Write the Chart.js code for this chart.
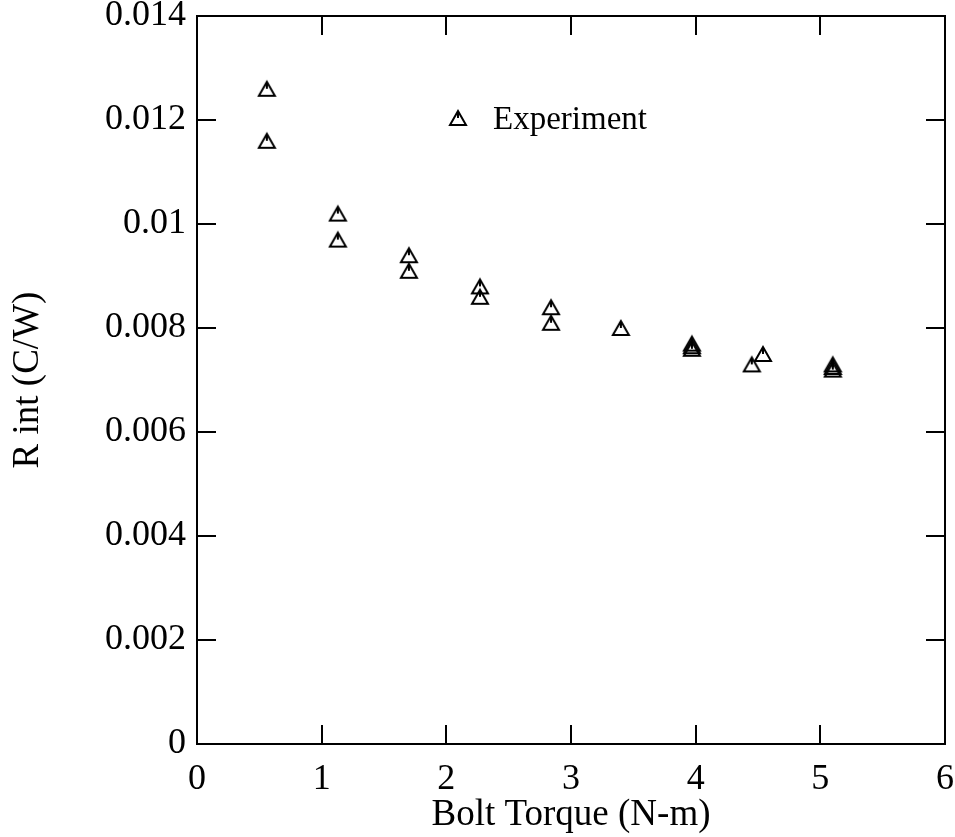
<!DOCTYPE html>
<html lang="en">
<head>
    <meta charset="UTF-8">
    <title>R int vs Bolt Torque</title>
    <script src="https://cdn.jsdelivr.net/npm/chart.js"></script>
    <style>
        html, body {
            margin: 0;
            padding: 0;
            background: #fff;
        }
        .chart-container {
            position: relative;
            width: 955px;
            height: 837px;
        }
    </style>
</head>
<body>

<div class="chart-container">
    <canvas id="myChart" width="955" height="837"></canvas>
</div>

<script>
    // torque (N-m) and interface resistance (C/W)
    const torque = [0.56, 0.56, 1.13, 1.13, 1.70, 1.70, 2.27, 2.27, 2.84, 2.84,
                    3.40, 3.97, 3.97, 3.97, 4.45, 4.54, 5.10, 5.10, 5.10];
    const rint = [0.0126, 0.0116, 0.0102, 0.0097, 0.0094, 0.0091, 0.0088, 0.0086, 0.0084, 0.0081,
                  0.0080, 0.0077, 0.00765, 0.0076, 0.0073, 0.0075, 0.0073, 0.00725, 0.0072];
    const xTicks = [0, 1, 2, 3, 4, 5, 6];
    const yTicks = [0, 0.002, 0.004, 0.006, 0.008, 0.01, 0.012, 0.014];
    const seriesName = 'Experiment';

    const FONT = "'Liberation Serif', 'Times New Roman', serif";

    // open triangle with the little stem, like the grace symbol
    function makeMarker() {
        const c = document.createElement('canvas');
        c.width = 20;
        c.height = 20;
        const g = c.getContext('2d');
        g.strokeStyle = '#000';
        g.lineWidth = 2;
        g.lineJoin = 'miter';
        g.beginPath();
        g.moveTo(10, 3);
        g.lineTo(18, 17);
        g.lineTo(2, 17);
        g.closePath();
        g.stroke();
        g.beginPath();
        g.moveTo(10, 3);
        g.lineTo(10, 10);
        g.stroke();
        return c;
    }
    const marker = makeMarker();

    const frame = {
        id: 'frame',
        afterDraw(chart) {
            const {ctx, chartArea: a, scales: {x, y}} = chart;
            const len = 19;
            ctx.save();
            ctx.strokeStyle = '#000';
            ctx.lineWidth = 2;
            ctx.beginPath();
            xTicks.forEach(v => {
                const px = Math.round(x.getPixelForValue(v));
                if (v === xTicks[0] || v === xTicks[xTicks.length - 1]) return;
                ctx.moveTo(px, a.bottom); ctx.lineTo(px, a.bottom - len);
                ctx.moveTo(px, a.top); ctx.lineTo(px, a.top + len);
            });
            yTicks.forEach(v => {
                const py = Math.round(y.getPixelForValue(v));
                if (v === yTicks[0] || v === yTicks[yTicks.length - 1]) return;
                ctx.moveTo(a.left, py); ctx.lineTo(a.left + len, py);
                ctx.moveTo(a.right, py); ctx.lineTo(a.right - len, py);
            });
            ctx.stroke();
            ctx.strokeRect(a.left, a.top, a.right - a.left, a.bottom - a.top);

            // legend
            ctx.drawImage(marker, 448, 108);
            ctx.fillStyle = '#000';
            ctx.font = '33px ' + FONT;
            ctx.textBaseline = 'middle';
            ctx.fillText(chart.data.datasets[0].label, 493, 120);
            ctx.restore();
        }
    };

    const config = {
        type: 'scatter',
        data: {
            datasets: [{
                label: seriesName,
                data: torque.map((t, i) => ({x: t, y: rint[i]})),
                pointStyle: marker,
                showLine: false
            }]
        },
        options: {
            responsive: false,
            animation: false,
            layout: {
                padding: {top: 16, right: 10, bottom: 0, left: 0}
            },
            plugins: {
                legend: {display: false},
                tooltip: {enabled: false}
            },
            scales: {
                x: {
                    type: 'linear',
                    min: 0,
                    max: 6,
                    afterFit: s => {
                        s.height = 93;
                        s.paddingLeft = 0;
                        s.paddingRight = 0;
                    },
                    afterBuildTicks: s => { s.ticks = xTicks.map(v => ({value: v})); },
                    grid: {display: false, drawTicks: false},
                    border: {display: false},
                    ticks: {
                        color: '#000',
                        padding: 14,
                        font: {family: FONT, size: 36},
                        maxRotation: 0
                    },
                    title: {
                        display: true,
                        text: 'Bolt Torque (N-m)',
                        color: '#000',
                        font: {family: FONT, size: 37},
                        padding: {top: 0, bottom: 0}
                    }
                },
                y: {
                    type: 'linear',
                    min: 0,
                    max: 0.014,
                    afterFit: s => {
                        s.width = 197;
                        s.paddingTop = 0;
                        s.paddingBottom = 0;
                    },
                    afterBuildTicks: s => { s.ticks = yTicks.map(v => ({value: v})); },
                    grid: {display: false, drawTicks: false},
                    border: {display: false},
                    ticks: {
                        color: '#000',
                        padding: 11,
                        font: {family: FONT, size: 36},
                        callback: v => String(+v.toFixed(3))
                    },
                    title: {
                        display: true,
                        text: 'R int (C/W)',
                        color: '#000',
                        font: {family: FONT, size: 37},
                        padding: {top: 6, bottom: 0}
                    }
                }
            }
        },
        plugins: [frame]
    };

    const ctx = document.getElementById('myChart').getContext('2d');
    new Chart(ctx, config);
</script>

</body>
</html>
